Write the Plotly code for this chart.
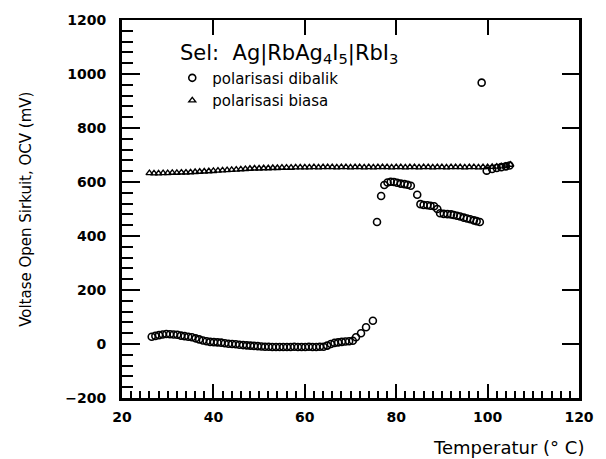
import plotly.graph_objects as go

# polarisasi biasa (triangles)
temp_biasa = [26, 27, 28, 29, 30, 31, 32, 33, 34, 35, 36, 37, 38, 39, 40, 41, 42, 43, 44, 45,
              46, 47, 48, 49, 50, 51, 52, 53, 54, 55, 56, 57, 58, 59, 60, 61, 62, 63, 64, 65,
              66, 67, 68, 69, 70, 71, 72, 73, 74, 75, 76, 77, 78, 79, 80, 81, 82, 83, 84, 85,
              86, 87, 88, 89, 90, 91, 92, 93, 94, 95, 96, 97, 98, 99, 100, 101, 102, 103, 104, 105]
ocv_biasa = [633, 632, 632, 633, 633, 634, 634, 635, 635, 636, 637, 638, 639, 640, 641, 642, 643, 644, 645, 646,
             647, 648, 649, 650, 650, 651, 651, 652, 652, 653, 653, 653, 654, 654, 654, 654, 655, 654, 655, 655,
             655, 654, 655, 655, 654, 655, 655, 654, 655, 654, 655, 655, 655, 654, 655, 655, 654, 655, 655, 654,
             655, 655, 654, 655, 655, 654, 655, 655, 655, 654, 655, 655, 654, 655, 655, 656, 657, 658, 660, 664]

# polarisasi dibalik (circles)
temp_dibalik = [26.5, 27.3, 28.1, 28.9, 29.7, 30.5, 31.3, 32.1, 32.9, 33.7, 34.5, 35.3, 36.1, 36.9, 37.7,
                38.5, 39.3, 40.1, 40.9, 41.7, 42.5, 43.3, 44.1, 44.9, 45.7, 46.5, 47.3, 48.1, 48.9, 49.7,
                50.5, 51.3, 52.1, 52.9, 53.7, 54.5, 55.3, 56.1, 56.9, 57.7, 58.5, 59.3, 60.1, 60.9, 61.7,
                62.5, 63.3, 64.1, 64.9, 65.7, 66.5, 67.3, 68.1, 68.9, 69.7, 70.5, 71.2, 72.3, 73.4, 74.9,
                75.8, 76.7, 77.4, 78.1, 78.8, 79.5, 80.2, 81.0, 81.8, 82.5, 83.2, 84.6, 85.3, 86.0, 86.8,
                87.5, 88.3, 89.0, 89.6, 90.4, 91.2, 92.0, 92.6, 93.3, 94.0, 94.8, 95.5, 96.2, 97.0, 97.6,
                98.3, 98.7, 99.8, 101.0, 102.0, 103.0, 104.0, 104.8]
ocv_dibalik = [27, 30, 33, 35, 37, 36, 35, 34, 31, 29, 27, 25, 21, 17, 13,
               10, 8, 7, 6, 5, 3, 1, 0, -1, -3, -4, -5, -6, -7, -8,
               -9, -10, -10, -11, -11, -11, -11, -11, -11, -10, -11, -11, -11, -10, -11,
               -11, -10, -10, -6, 0, 4, 6, 8, 9, 10, 12, 25, 40, 62, 86,
               452, 548, 589, 598, 601, 600, 597, 594, 592, 590, 586, 553, 518, 515, 514,
               512, 510, 500, 484, 482, 481, 480, 478, 475, 472, 468, 465, 462, 458, 455,
               452, 968, 642, 648, 652, 655, 658, 661]

x_ticks = [20, 40, 60, 80, 100, 120]
y_ticks = [-200, 0, 200, 400, 600, 800, 1000, 1200]

fig = go.Figure()
fig.add_trace(go.Scatter(
    x=temp_dibalik, y=ocv_dibalik, mode="markers", name="polarisasi dibalik",
    marker=dict(symbol="circle-open", size=7, color="black", line=dict(width=1.6, color="black")),
))
fig.add_trace(go.Scatter(
    x=temp_biasa, y=ocv_biasa, mode="markers", name="polarisasi biasa",
    marker=dict(symbol="triangle-up-open", size=6, color="black", line=dict(width=1.4, color="black")),
))

tickfont = dict(family="DejaVu Sans", size=14, color="black", weight="bold")

fig.update_layout(
    width=606, height=459,
    margin=dict(l=122, r=23, t=16, b=61),
    paper_bgcolor="white", plot_bgcolor="white",
    showlegend=True,
    legend=dict(x=0.11, y=0.89, xanchor="left", yanchor="top",
                bgcolor="rgba(0,0,0,0)", font=dict(family="DejaVu Sans", size=15, color="black"),
                tracegroupgap=0),
    xaxis=dict(range=[20, 120], tickvals=x_ticks, ticks="inside", ticklen=14, tickwidth=2,
               tickcolor="black", showline=True, linewidth=3, linecolor="black",
               showgrid=False, zeroline=False, tickfont=tickfont, ticklabelstandoff=4,
               minor=dict(dtick=2, ticks="inside", ticklen=7, tickwidth=1.5, tickcolor="black", showgrid=False)),
    xaxis2=dict(range=[20, 120], overlaying="x", side="top", tickvals=[40, 60, 80, 100],
                ticks="inside", ticklen=15, tickwidth=2, tickcolor="black",
                showline=True, linewidth=2, linecolor="black", showticklabels=False,
                showgrid=False, zeroline=False),
    yaxis=dict(range=[-200, 1200], tickvals=y_ticks, ticks="inside", ticklen=18, tickwidth=2,
               tickcolor="black", showline=True, linewidth=3, linecolor="black",
               showgrid=False, zeroline=False, tickfont=tickfont, ticklabelstandoff=10,
               minor=dict(dtick=40, ticks="inside", ticklen=11, tickwidth=1.5, tickcolor="black", showgrid=False)),
    yaxis2=dict(range=[-200, 1200], overlaying="y", side="right", tickvals=[0, 200, 400, 600, 800, 1000],
                ticks="inside", ticklen=17, tickwidth=2, tickcolor="black",
                showline=True, linewidth=3, linecolor="black", showticklabels=False,
                showgrid=False, zeroline=False),
)

# invisible trace to activate secondary axes
fig.add_trace(go.Scatter(x=[None], y=[None], xaxis="x2", yaxis="y2", showlegend=False, hoverinfo="skip"))

fig.add_annotation(text="Sel:  Ag|RbAg<sub>4</sub>I<sub>5</sub>|RbI<sub>3</sub>", xref="paper", yref="paper",
                   x=(178 - 122) / 461, y=(398 - 50) / 382, xanchor="left", yanchor="middle",
                   showarrow=False, font=dict(family="DejaVu Sans", size=21, color="black"))
fig.add_annotation(text="Temperatur (° C)", xref="paper", yref="paper",
                   x=(590 - 122) / 461, y=(398 - 448) / 382, xanchor="right", yanchor="middle",
                   showarrow=False, font=dict(family="DejaVu Sans", size=18, color="black"))
fig.add_annotation(text="Voltase Open Sirkuit, OCV (mV)", xref="paper", yref="paper",
                   x=(25 - 122) / 461, y=0.5, xanchor="center", yanchor="middle", textangle=-90,
                   showarrow=False, font=dict(family="DejaVu Sans", size=15, color="black"))

fig.write_html("out.html")
